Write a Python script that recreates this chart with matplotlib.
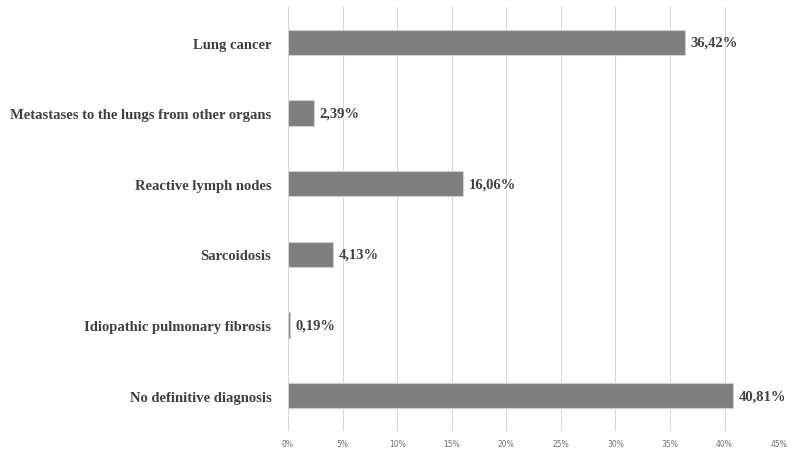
import matplotlib.pyplot as plt
import numpy as np

categories = ["Lung cancer",
              "Metastases to the lungs from other organs",
              "Reactive lymph nodes",
              "Sarcoidosis",
              "Idiopathic pulmonary fibrosis",
              "No definitive diagnosis"]
values = [36.42, 2.39, 16.06, 4.13, 0.19, 40.81]
xticks = np.arange(0, 46, 5)

fig = plt.figure(figsize=(7.91, 4.56), dpi=100)
ax = fig.add_axes([0.364, 0.053, 0.621, 0.929])

y = np.arange(len(categories))
ax.barh(y, values, height=0.36, color="#7f7f7f", edgecolor="#d0d0d0",
        linewidth=0.8, zorder=3)

for yi, v in zip(y, values):
    ax.text(v + 0.5, yi, f"{v:.2f}%".replace(".", ","), va="center", ha="left",
            family="Liberation Serif", fontweight="bold", fontsize=10.5,
            color="#404040")

ax.set_ylim(len(categories) - 0.5, -0.5)
ax.set_xlim(0, 45)
ax.set_yticks(y)
ax.set_yticklabels(categories, family="Liberation Serif", fontweight="bold",
                   fontsize=10.5, color="#404040")
ax.set_xticks(xticks)
ax.set_xticklabels([f"{t}%" for t in xticks], fontsize=5.5, color="#707070")
ax.tick_params(axis="both", length=0)
ax.tick_params(axis="y", pad=12)
ax.tick_params(axis="x", pad=6)
ax.grid(axis="x", color="#d9d9d9", linewidth=0.8, zorder=0)
for s in ax.spines.values():
    s.set_visible(False)

fig.savefig("out.png", dpi=100)
